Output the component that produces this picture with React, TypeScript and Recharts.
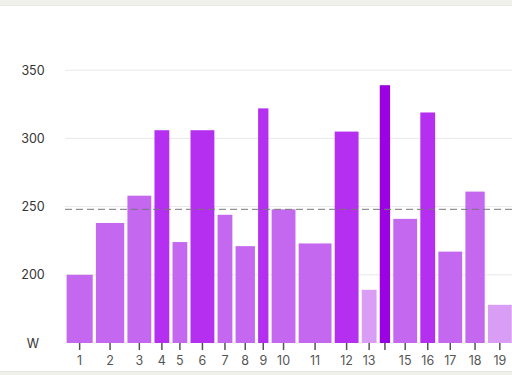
import {
  ComposedChart,
  XAxis,
  YAxis,
  CartesianGrid,
  ReferenceArea,
  ReferenceLine,
  Line,
} from 'recharts'

// interval durations in minutes, average watts per interval
const durations = [6.5, 7, 6, 4, 4, 6, 4, 5, 3, 6, 8, 6, 4, 3, 6, 4, 6, 5, 6]
const watts = [200, 238, 258, 306, 224, 306, 244, 221, 322, 248, 223, 305, 189, 339, 241, 319, 217, 261, 178]
const zones = [2, 2, 2, 3, 2, 3, 2, 2, 3, 2, 2, 3, 1, 4, 2, 3, 2, 2, 1]
const tickLabels = ['1', '2', '3', '4', '5', '6', '7', '8', '9', '10', '11', '12', '13', '', '15', '16', '17', '18', '19']
const yTicks = [150, 200, 250, 300, 350]
const avgWatts = 248

const zoneColors: Record<number, string> = {
  1: '#d99df5',
  2: '#c468f0',
  3: '#b42ff0',
  4: '#9a02e2',
}

let t = 0
const intervals = durations.map((d, i) => {
  const start = t
  t += d
  return { start, end: t, mid: start + d / 2, watts: watts[i], zone: zones[i], label: tickLabels[i] }
})

const font = 'Inter, "Open Sans", sans-serif'

const YTick = ({ y, payload }: any) => (
  <text x={33} y={y} textAnchor="middle" dominantBaseline="central" fontSize={12.5} fill="#333" fontFamily={font}>
    {payload.value === 150 ? 'W' : payload.value}
  </text>
)

const BarShape = (p: any) => (
  <rect x={p.x + 1.6} y={p.y} width={Math.max(p.width - 3.2, 0)} height={p.height} fill={p.fill} />
)

export default function App() {
  return (
    <div style={{ position: 'absolute', left: 0, top: 0, width: 512, height: 375, overflow: 'hidden', background: '#fff' }}>
      <ComposedChart
        width={512}
        height={375}
        data={intervals}
        margin={{ top: 2, right: 0, bottom: 0, left: 0 }}
      >
        <CartesianGrid vertical={false} horizontalValues={[200, 250, 300, 350]} stroke="#e8e8e8" />
        <XAxis
          type="number"
          dataKey="mid"
          domain={[0, 99.2]}
          allowDataOverflow
          ticks={intervals.map((d) => d.mid)}
          tickFormatter={(v: number) => intervals.find((d) => d.mid === v)?.label ?? ''}
          interval={0}
          height={32}
          axisLine={false}
          tickSize={7}
          tickMargin={6}
          tickLine={{ stroke: '#555', strokeWidth: 1.5 }}
          tick={{ fontSize: 12.5, fill: '#555', fontFamily: font }}
        />
        <YAxis
          type="number"
          domain={[150, 400]}
          ticks={yTicks}
          width={65}
          axisLine={false}
          tickLine={false}
          tick={<YTick />}
        />
        {intervals.map((d, i) => (
          <ReferenceArea
            key={i}
            x1={d.start}
            x2={d.end}
            y1={150}
            y2={d.watts}
            fill={zoneColors[d.zone]}
            fillOpacity={1}
            stroke="none"
            ifOverflow="hidden"
            shape={BarShape}
          />
        ))}
        <ReferenceLine y={avgWatts} stroke="#777" strokeDasharray="7 4" ifOverflow="visible" />
        <Line dataKey="watts" stroke="none" dot={false} activeDot={false} isAnimationActive={false} />
      </ComposedChart>
      <div style={{ position: 'absolute', left: 0, top: 0, width: 512, height: 5, background: '#f1f1ec', borderBottom: '1px solid #e7e7e1' }} />
      <div style={{ position: 'absolute', left: 0, top: 371, width: 512, height: 4, background: '#f1f1ec', borderTop: '1px solid #e7e7e1' }} />
    </div>
  )
}
